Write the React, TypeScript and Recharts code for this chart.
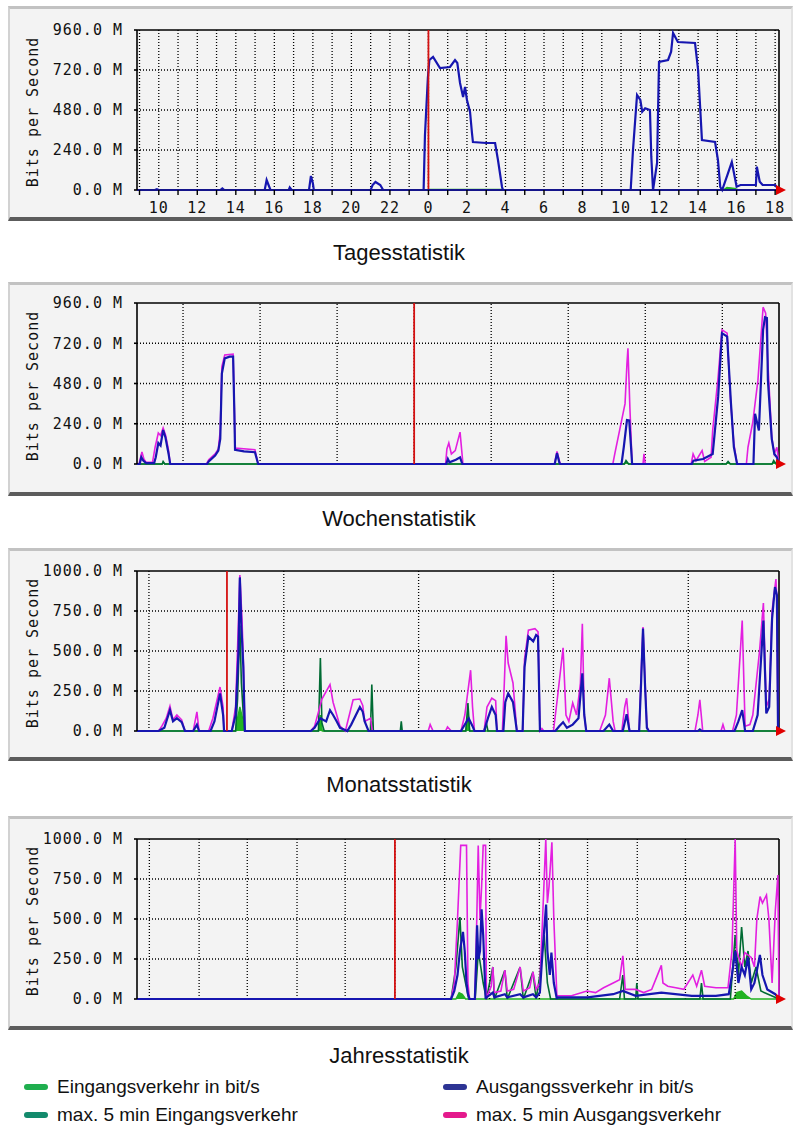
import React from "react";
import {
  ComposedChart,
  Line,
  Area,
  XAxis,
  YAxis,
  ReferenceLine,
  ReferenceDot,
} from "recharts";

type P = [number, number];

const MONO = "'DejaVu Sans Mono', monospace";
const SANS = "'Liberation Sans', Arial, sans-serif";

const C_IN = "#22b322";
const C_MAXIN = "#006b33";
const C_OUT = "#1616b0";
const C_MAXOUT = "#e31fe0";

// ---- Tagesstatistik: x = hours since previous midnight (24+ = today)
const dayDomain: [number, number] = [8.87, 42.2];
const dayTicks = [9, 10, 11, 12, 13, 14, 15, 16, 17, 18, 19, 20, 21, 22, 23, 24, 25, 26, 27, 28, 29, 30, 31, 32, 33, 34, 35, 36, 37, 38, 39, 40, 41, 42];
const dayNow = 24;

const dayOut: P[] = [
  [8.87, 0], [9.8, 0], [9.9, 5], [10.0, 0], [13.2, 0], [13.3, 10], [13.4, 0],
  [15.5, 0], [15.6, 60], [15.7, 30], [15.8, 0], [16.75, 0], [16.8, 15], [16.9, 0],
  [17.8, 0], [17.9, 84], [18.0, 40], [18.05, 0], [21.0, 0], [21.1, 30], [21.25, 48],
  [21.5, 30], [21.65, 0], [23.75, 0], [23.82, 330], [23.97, 672], [24.05, 780],
  [24.24, 798], [24.6, 732], [25.12, 738], [25.38, 780], [25.5, 762], [25.64, 642],
  [25.8, 558], [25.9, 618], [26.0, 540], [26.16, 468], [26.26, 342], [26.31, 288],
  [27.0, 282], [27.46, 282], [27.61, 180], [27.82, 18], [27.87, 0], [34.5, 0],
  [34.62, 240], [34.83, 570], [35.0, 540], [35.1, 470], [35.25, 490], [35.5, 480],
  [35.57, 200], [35.66, 0], [35.87, 162], [35.97, 768], [36.44, 780], [36.6, 830],
  [36.7, 942], [36.95, 888], [37.84, 882], [38.0, 720], [38.2, 300], [38.88, 288],
  [39.03, 180], [39.15, 18], [39.25, 0], [39.55, 100], [39.75, 168], [39.9, 80],
  [40.0, 20], [40.2, 30], [41.0, 30], [41.05, 140], [41.2, 50], [41.35, 30],
  [42.0, 30], [42.2, 0],
];
const dayIn: P[] = [
  [8.87, 0], [23.97, 0], [24.0, 4], [27.9, 4], [27.95, 0], [39.3, 0], [39.5, 15],
  [39.9, 10], [40.1, 0], [42.2, 0],
];

// ---- Wochenstatistik: x = hours since Thursday 00:00
const weekDomain: [number, number] = [9.66, 209.66];
const weekTicks = [24, 48, 72, 96, 120, 144, 168, 192];
const weekLabelTicks = [12, 36, 60, 84, 108, 132, 156, 180, 204];
const weekLabels = ["Thu", "Fri", "Sat", "Sun", "Mon", "Tue", "Wed", "Thu", "Fri"];
const weekNow = 96;

const weekOut: P[] = [
  [9.66, 0], [10.5, 0], [11.0, 40], [11.6, 20], [12.5, 5], [15, 5], [15.5, 40],
  [16.3, 125], [17.0, 110], [17.8, 203], [18.5, 160], [19.5, 60], [20, 0],
  [31.5, 0], [32, 15], [34, 50], [35, 80], [35.6, 150], [36.1, 540], [37, 630],
  [38.5, 640], [39.6, 640], [40.0, 300], [40.2, 84], [43, 75], [46.4, 70], [47.4, 0],
  [106, 0], [106.5, 30], [107, 10], [109, 25], [110.3, 40], [111, 0],
  [139.8, 0], [140.5, 65], [141.2, 10], [141.5, 0], [160.6, 0], [161.3, 100],
  [162.3, 262], [163.0, 260], [163.5, 120], [163.9, 0], [182.5, 0], [183, 20],
  [186, 30], [189, 60], [190.7, 400], [191.9, 780], [193.5, 760], [194.7, 360],
  [195.6, 100], [196.6, 0], [201.7, 0], [202.2, 300], [203.4, 200], [204.7, 800],
  [205.3, 875], [205.9, 870], [206.2, 500], [207.4, 150], [208.2, 60], [209, 40],
  [209.66, 0],
];
const weekMaxOut: P[] = [
  [9.66, 0], [10.3, 0], [11.2, 72], [11.8, 30], [12.5, 10], [14.5, 10], [15.3, 100],
  [16.3, 185], [17.0, 170], [17.8, 215], [18.6, 170], [19.5, 80], [20, 0],
  [31.3, 0], [32, 25], [34, 60], [35, 90], [35.6, 200], [36.1, 580], [37, 650],
  [39.6, 655], [40.0, 320], [40.2, 95], [46.4, 85], [47.4, 0], [105.8, 0],
  [106.2, 90], [106.8, 125], [107.6, 60], [108.8, 80], [110.3, 190], [111.2, 0],
  [139.7, 0], [140.5, 75], [141.5, 0], [157.9, 0], [158.5, 60], [160, 200],
  [161.7, 360], [162.3, 600], [162.6, 690], [163.2, 340], [163.9, 0], [167.3, 0],
  [167.6, 60], [168, 0], [182.3, 0], [182.9, 60], [183.8, 20], [185.7, 80],
  [186.5, 15], [188.5, 40], [189, 200], [190.7, 520], [191.9, 800], [193.5, 780],
  [194.5, 400], [195.6, 120], [196.6, 0], [199.5, 0], [200, 100], [201.5, 250],
  [202.2, 360], [203.1, 500], [204.7, 935], [205.5, 900], [206.2, 600],
  [207.4, 160], [208.2, 60], [209, 100], [209.66, 0],
];
const weekIn: P[] = [
  [9.66, 0], [17.5, 0], [17.8, 10], [18.3, 0], [161.5, 0], [162, 12], [162.8, 0],
  [193.2, 0], [193.8, 10], [194.5, 0], [207.5, 0], [208, 12], [208.8, 0], [209.66, 0],
];
const weekMaxIn: P[] = [
  [9.66, 0], [17.5, 0], [17.8, 15], [18.3, 0], [161.5, 0], [162, 20], [162.8, 0],
  [193.2, 0], [193.8, 15], [194.5, 0], [207.5, 0], [208, 20], [208.8, 0], [209.66, 0],
];

// ---- Monatsstatistik: x = days since start of week 30
const monthDomain: [number, number] = [-0.62, 32.71];
const monthTicks = [0, 7, 14, 21, 28];
const monthLabelTicks = [3.5, 10.5, 17.5, 24.5, 31.5];
const monthLabels = ["Week 30", "Week 31", "Week 32", "Week 33", "Week 34"];
const monthNow = 4.05;

const monthOut: P[] = [
  [-0.62, 0], [0.5, 0], [0.8, 20], [1.09, 130], [1.25, 60], [1.45, 80], [1.7, 55],
  [1.87, 0], [2.3, 0], [2.49, 40], [2.6, 0], [3.2, 0], [3.4, 60], [3.69, 235],
  [3.85, 100], [3.9, 0], [4.3, 0], [4.5, 100], [4.65, 500], [4.72, 960], [4.8, 650],
  [4.9, 400], [4.98, 0], [8.4, 0], [8.6, 20], [8.9, 80], [9.2, 60], [9.4, 130],
  [9.56, 100], [9.75, 60], [9.92, 20], [10.3, 0], [10.5, 40], [10.95, 150],
  [11.1, 120], [11.2, 60], [11.4, 0], [16.2, 0], [16.5, 60], [16.6, 80], [16.8, 30],
  [16.9, 0], [17.4, 0], [17.6, 80], [17.8, 150], [18.0, 100], [18.07, 0], [18.4, 0],
  [18.5, 180], [18.65, 235], [18.9, 180], [19.1, 0], [19.4, 0], [19.5, 400],
  [19.7, 590], [19.95, 560], [20.1, 600], [20.2, 590], [20.3, 0], [21.1, 0],
  [21.3, 30], [21.5, 55], [21.7, 20], [22.0, 40], [22.3, 80], [22.5, 360],
  [22.6, 100], [22.7, 0], [23.6, 0], [23.9, 40], [24.1, 0], [24.6, 0], [24.8, 105],
  [24.95, 0], [25.45, 0], [25.55, 300], [25.65, 640], [25.75, 300], [25.85, 20],
  [25.95, 0], [28.5, 0], [28.6, 10], [28.7, 0], [30.4, 0], [30.6, 60], [30.8, 130],
  [30.95, 0], [31.35, 0], [31.6, 100], [31.9, 690], [32.05, 110], [32.2, 150],
  [32.35, 700], [32.5, 900], [32.6, 850], [32.66, 0], [32.71, 0],
];
const monthMaxOut: P[] = [
  [-0.62, 0], [0.5, 0], [0.67, 30], [0.9, 80], [1.09, 156], [1.25, 70], [1.45, 100],
  [1.7, 70], [1.87, 0], [2.3, 0], [2.49, 120], [2.6, 0], [3.1, 0], [3.32, 80],
  [3.69, 275], [3.85, 150], [3.9, 0], [4.3, 0], [4.5, 150], [4.65, 700], [4.72, 975],
  [4.83, 700], [4.9, 450], [4.98, 0], [8.4, 0], [8.6, 30], [8.98, 200], [9.4, 290],
  [9.56, 180], [9.75, 100], [9.92, 30], [10.2, 0], [10.3, 50], [10.6, 195],
  [10.95, 200], [11.1, 160], [11.2, 60], [11.5, 80], [11.6, 0], [14.5, 0],
  [14.6, 40], [14.75, 0], [15.4, 0], [15.5, 25], [15.7, 0], [16.2, 0], [16.4, 100],
  [16.7, 380], [16.8, 150], [16.9, 0], [17.4, 0], [17.55, 150], [17.8, 205],
  [18.0, 190], [18.07, 0], [18.35, 0], [18.45, 300], [18.54, 595], [18.65, 425],
  [18.9, 300], [19.1, 0], [19.4, 0], [19.5, 450], [19.7, 630], [20.04, 640],
  [20.2, 620], [20.3, 0], [20.4, 15], [20.5, 0], [21.0, 0], [21.2, 200], [21.5, 520],
  [21.65, 100], [21.8, 60], [22.0, 175], [22.2, 100], [22.4, 300], [22.5, 670],
  [22.6, 100], [22.7, 0], [23.4, 0], [23.7, 100], [23.9, 330], [24.1, 60], [24.2, 0],
  [24.55, 0], [24.7, 150], [24.8, 205], [24.95, 0], [25.45, 0], [25.55, 350],
  [25.65, 650], [25.75, 320], [25.85, 30], [25.95, 0], [28.35, 0], [28.5, 100],
  [28.6, 195], [28.75, 0], [29.7, 0], [29.8, 40], [29.9, 0], [30.3, 0], [30.5, 100],
  [30.8, 690], [30.95, 30], [31.2, 40], [31.35, 100], [31.7, 500], [31.9, 800],
  [32.05, 150], [32.2, 200], [32.35, 750], [32.55, 950], [32.6, 800], [32.66, 0],
  [32.71, 0],
];
const monthIn: P[] = [
  [-0.62, 0], [4.5, 0], [4.6, 80], [4.72, 150], [4.9, 60], [4.98, 0], [8.8, 0],
  [8.9, 100], [9.0, 0], [11.5, 0], [11.57, 60], [11.65, 0], [16.45, 0], [16.56, 100],
  [16.65, 0], [32.71, 0],
];
const monthMaxIn: P[] = [
  [-0.62, 0], [4.5, 0], [4.6, 200], [4.72, 660], [4.8, 300], [4.9, 100], [4.98, 0],
  [8.8, 0], [8.9, 456], [8.98, 50], [9.1, 0], [11.5, 0], [11.57, 290], [11.65, 0],
  [13.05, 0], [13.1, 60], [13.15, 0], [16.45, 0], [16.56, 175], [16.65, 0],
  [17.45, 0], [17.5, 60], [17.6, 0], [32.71, 0],
];

// ---- Jahresstatistik: x = days since 1 January
const yearDomain: [number, number] = [-160.7, 239.3];
const yearTicks = [-153, -122, -92, -61, -31, 0, 31, 59, 90, 120, 151, 181, 212];
const yearLabelTicks = [-137.5, -107, -76.5, -46, -15.5, 15.5, 45, 74.5, 105, 135.5, 166, 196.5, 227.5];
const yearLabels = ["Aug", "Sep", "Oct", "Nov", "Dec", "Jan", "Feb", "Mar", "Apr", "May", "Jun", "Jul", "Aug"];
const yearNow = 0;

const yearOut: P[] = [
  [-160.7, 0], [35, 0], [37, 50], [39, 150], [40.5, 300], [42.4, 420], [43.5, 300],
  [44.6, 100], [45.5, 30], [46.5, 0], [49.8, 0], [50.5, 200], [51.2, 460], [52, 250],
  [53, 300], [54, 560], [55, 400], [56.5, 0], [57, 10], [61, 40], [62, 10],
  [68.5, 30], [70, 10], [78, 30], [80, 10], [86, 30], [88, 10], [90.3, 40], [92, 300],
  [94.2, 590], [95, 300], [96.5, 150], [97.5, 290], [99, 100], [100.9, 0], [101, 10],
  [120, 10], [136, 30], [142, 50], [150, 20], [166, 40], [185, 20], [200, 20],
  [208, 30], [210, 150], [212, 300], [214, 100], [216, 200], [218, 150], [220, 260],
  [222, 60], [224, 100], [227.4, 275], [229, 150], [232, 60], [237, 30], [239.3, 0],
];
const yearMaxOut: P[] = [
  [-160.7, 0], [35, 0], [37, 100], [39, 500], [41, 960], [44.6, 960], [45.5, 100],
  [46.5, 0], [49.8, 0], [51, 500], [51.9, 960], [53, 500], [54, 700], [55, 960],
  [56.5, 960], [57, 0], [58, 30], [60, 80], [61, 200], [62, 40], [66, 50],
  [68.5, 180], [70, 50], [74, 60], [78, 200], [80, 50], [84, 70], [86, 170],
  [88, 60], [90.3, 100], [92, 500], [94, 1000], [95, 600], [96, 700], [97.8, 980],
  [99, 500], [100.9, 20], [110, 20], [119.6, 50], [125, 40], [130, 70],
  [136, 100], [140, 120], [142, 270], [143.5, 60], [150, 60], [155, 40], [160, 60],
  [166, 210], [167, 100], [170, 80], [175, 70], [180, 60], [185.6, 150], [188, 80],
  [191, 180], [193, 80], [200, 70], [207.5, 70], [210, 300], [212, 1000], [213, 300],
  [216, 200], [218, 290], [222, 260], [224, 200], [225.5, 500], [227.5, 640],
  [229, 600], [231.5, 650], [233, 500], [235, 100], [237, 550], [238.6, 775],
  [239.3, 0],
];
const yearIn: P[] = [
  [-160.7, 0], [38, 0], [40, 40], [42, 30], [44, 0], [211, 0], [213, 40],
  [216, 50], [219, 20], [222, 0], [239.3, 0],
];
const yearMaxIn: P[] = [
  [-160.7, 0], [35, 0], [38, 200], [40.5, 512], [42, 200], [44, 100], [46, 0],
  [50, 0], [52, 300], [55, 100], [57, 0], [61, 200], [62, 0], [68.5, 180], [70, 0],
  [78, 200], [80, 0], [86, 170], [88, 0], [90.3, 150], [93, 400], [95, 100],
  [97, 0], [140, 0], [142, 150], [143, 0], [150, 0], [150.7, 100], [151.5, 0],
  [190, 0], [191, 100], [192, 0], [209, 0], [212, 400], [214, 150], [216, 450],
  [218, 200], [220, 300], [222, 100], [225, 200], [228, 50], [239.3, 0],
];

const yTicks960 = [0, 240, 480, 720, 960];
const yTicks1000 = [0, 250, 500, 750, 1000];

const pts = (s: P[]) => s.map(([t, v]) => ({ t, v }));

interface PanelProps {
  top: number;
  height: number;
  plotTop: number;
  plotBottom: number;
  title: string;
  titleY: number;
  domain: [number, number];
  ticks: number[];
  tickFmt?: (v: number) => string;
  labelTicks?: number[];
  labels?: string[];
  yMax: number;
  yTicks: number[];
  now: number;
  inS: P[];
  maxInS?: P[];
  outS: P[];
  maxOutS?: P[];
}

const tickStyle = { fill: "#111", fontSize: 15, fontFamily: MONO, letterSpacing: 1 };
const GRID = { stroke: "#000", strokeDasharray: "1 2", strokeWidth: 1.3 };

function Arrow(props: any) {
  const { cx, cy } = props;
  return <polygon points={`${cx - 3},${cy - 5} ${cx + 7},${cy} ${cx - 3},${cy + 5}`} fill="#e00000" />;
}

function Panel(p: PanelProps) {
  const xAxisH = 24;
  const mTop = p.plotTop - p.top;
  const mBottom = p.height - (p.plotBottom - p.top) - xAxisH;
  return (
    <>
      <div
        style={{
          position: "absolute",
          left: 8,
          top: p.top,
          width: 785,
          height: p.height,
          boxSizing: "border-box",
          background: "#f3f3f3",
          borderTop: "3px solid #c2c2c2",
          borderLeft: "2px solid #d2d2d2",
          borderRight: "2px solid #e2e2e2",
          borderBottom: "4px solid #5c5c5c",
        }}
      />
      <div
        style={{
          position: "absolute",
          left: 33 - 80,
          top: (p.plotTop + p.plotBottom) / 2 - 8,
          width: 160,
          height: 20,
          lineHeight: "20px",
          textAlign: "center",
          transform: "rotate(-90deg)",
          fontFamily: MONO,
          fontSize: 15,
          letterSpacing: 1,
          color: "#111",
          whiteSpace: "nowrap",
        }}
      >
        Bits per Second
      </div>
      <div style={{ position: "absolute", left: 0, top: p.top }}>
        <ComposedChart
          width={798}
          height={p.height}
          margin={{ top: mTop, right: 19, bottom: mBottom, left: 0 }}
        >
          <XAxis
            dataKey="t"
            type="number"
            domain={p.domain}
            ticks={p.ticks}
            interval={0}
            tickFormatter={p.tickFmt ?? (() => "")}
            height={p.labelTicks ? 0 : xAxisH}
            tickSize={5}
            tickMargin={7}
            axisLine={{ stroke: "#14148a", strokeWidth: 2.2 }}
            tickLine={{ stroke: "#000", strokeWidth: 1.4 }}
            tick={tickStyle}
          />
          {p.labelTicks && (
            <XAxis
              xAxisId="lab"
              dataKey="t"
              type="number"
              domain={p.domain}
              ticks={p.labelTicks}
              interval={0}
              tickFormatter={(v: number) => p.labels![p.labelTicks!.indexOf(v)] ?? ""}
              height={xAxisH}
              tickSize={5}
              tickMargin={7}
              axisLine={false}
              tickLine={false}
              tick={tickStyle}
            />
          )}
          <YAxis
            type="number"
            domain={[0, p.yMax]}
            ticks={p.yTicks}
            interval={0}
            width={137}
            tickSize={3}
            tickMargin={11}
            stroke="#000"
            strokeWidth={1.6}
            tick={tickStyle}
            tickFormatter={(v: number) => `${v.toFixed(1)} M`}
          />
          {p.yTicks.filter((v) => v > 0 && v < p.yMax).map((v) => (
            <ReferenceLine key={`h${v}`} y={v} {...GRID} />
          ))}
          {p.ticks.map((v) => (
            <ReferenceLine key={`v${v}`} x={v} {...GRID} />
          ))}
          <ReferenceLine y={p.yMax} stroke="#000" strokeWidth={1.6} />
          <ReferenceLine x={p.domain[1]} stroke="#000" strokeWidth={1.6} />
          <Area
            data={pts(p.inS)}
            dataKey="v"
            type="linear"
            stroke={C_IN}
            strokeWidth={1.4}
            fill={C_IN}
            fillOpacity={1}
            dot={false}
            isAnimationActive={false}
          />
          {p.maxInS && (
            <Line
              data={pts(p.maxInS)}
              dataKey="v"
              type="linear"
              stroke={C_MAXIN}
              strokeWidth={1.6}
              dot={false}
              isAnimationActive={false}
            />
          )}
          {p.maxOutS && (
            <Line
              data={pts(p.maxOutS)}
              dataKey="v"
              type="linear"
              stroke={C_MAXOUT}
              strokeWidth={1.6}
              dot={false}
              isAnimationActive={false}
            />
          )}
          <Line
            data={pts(p.outS)}
            dataKey="v"
            type="linear"
            stroke={C_OUT}
            strokeWidth={2.2}
            dot={false}
            isAnimationActive={false}
          />
          <ReferenceLine x={p.now} stroke="#d41010" strokeWidth={1.8} />
          <ReferenceDot x={p.domain[1]} y={0} r={5} shape={Arrow} ifOverflow="visible" />
        </ComposedChart>
      </div>
      <div
        style={{
          position: "absolute",
          left: 0,
          width: 798,
          top: p.titleY - 14,
          height: 28,
          lineHeight: "28px",
          textAlign: "center",
          fontFamily: SANS,
          fontSize: 22,
          color: "#111",
        }}
      >
        {p.title}
      </div>
    </>
  );
}

const legendItems = [
  { label: "Eingangsverkehr in bit/s", color: "#1fae4e", x: 24, y: 1087 },
  { label: "Ausgangssverkehr in bit/s", color: "#2d3494", x: 443, y: 1087 },
  { label: "max. 5 min Eingangsverkehr", color: "#138a6c", x: 24, y: 1115 },
  { label: "max. 5 min Ausgangsverkehr", color: "#e4198c", x: 443, y: 1115 },
];

export default function App() {
  return (
    <div style={{ position: "absolute", left: 0, top: 0, width: 798, height: 1143, background: "#fff", overflow: "hidden" }}>
      <Panel
        top={6}
        height={215}
        plotTop={30}
        plotBottom={190}
        title="Tagesstatistik"
        titleY={253}
        domain={dayDomain}
        ticks={dayTicks}
        tickFmt={(v: number) => (v % 2 === 0 ? String(v % 24) : "")}
        yMax={960}
        yTicks={yTicks960}
        now={dayNow}
        inS={dayIn}
        outS={dayOut}
      />
      <Panel
        top={282}
        height={214}
        plotTop={303}
        plotBottom={464}
        title="Wochenstatistik"
        titleY={519}
        domain={weekDomain}
        ticks={weekTicks}
        labelTicks={weekLabelTicks}
        labels={weekLabels}
        yMax={960}
        yTicks={yTicks960}
        now={weekNow}
        inS={weekIn}
        maxInS={weekMaxIn}
        outS={weekOut}
        maxOutS={weekMaxOut}
      />
      <Panel
        top={548}
        height={213}
        plotTop={571}
        plotBottom={731}
        title="Monatsstatistik"
        titleY={785}
        domain={monthDomain}
        ticks={monthTicks}
        labelTicks={monthLabelTicks}
        labels={monthLabels}
        yMax={1000}
        yTicks={yTicks1000}
        now={monthNow}
        inS={monthIn}
        maxInS={monthMaxIn}
        outS={monthOut}
        maxOutS={monthMaxOut}
      />
      <Panel
        top={816}
        height={214}
        plotTop={839}
        plotBottom={999}
        title="Jahresstatistik"
        titleY={1056}
        domain={yearDomain}
        ticks={yearTicks}
        labelTicks={yearLabelTicks}
        labels={yearLabels}
        yMax={1000}
        yTicks={yTicks1000}
        now={yearNow}
        inS={yearIn}
        maxInS={yearMaxIn}
        outS={yearOut}
        maxOutS={yearMaxOut}
      />
      {legendItems.map((it) => (
        <div key={it.label} style={{ position: "absolute", left: it.x, top: it.y - 12, height: 24, display: "flex", alignItems: "center" }}>
          <span style={{ display: "inline-block", width: 24, height: 6, borderRadius: 3, background: it.color, marginRight: 9 }} />
          <span style={{ fontFamily: SANS, fontSize: 19, color: "#111", whiteSpace: "nowrap" }}>{it.label}</span>
        </div>
      ))}
    </div>
  );
}
